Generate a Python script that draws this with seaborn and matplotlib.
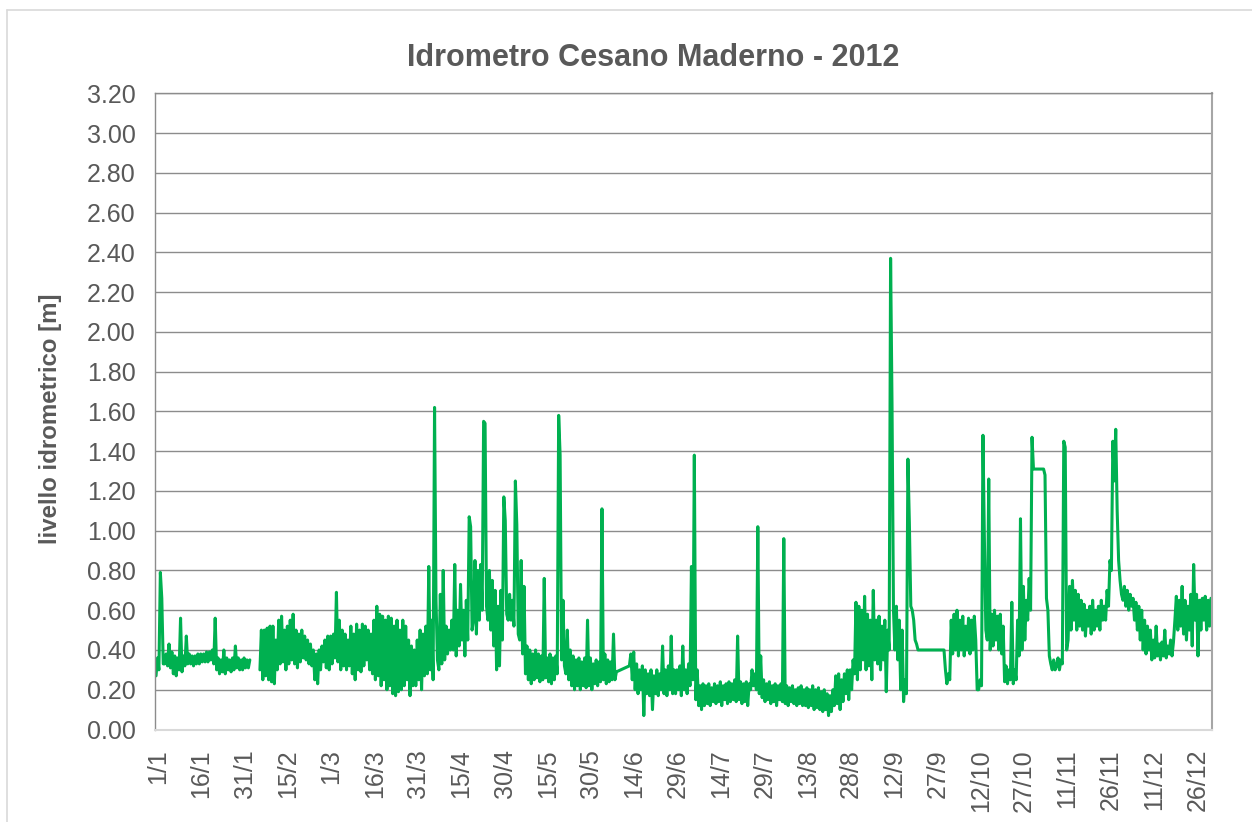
import matplotlib
matplotlib.use("Agg")
import matplotlib.pyplot as plt
from matplotlib.lines import Line2D
from matplotlib.ticker import FormatStrFormatter
from matplotlib.transforms import ScaledTranslation
import numpy as np
import pandas as pd
import seaborn as sns

# Hydrometer level, Cesano Maderno 2012: two readings per day (morning / evening), in metres.
# Day 0 = 1 January. None = no reading.
AM = (
    [0.27, 0.30, 0.66, 0.33, 0.32, 0.31, 0.28, 0.27, 0.30, 0.29, 0.32, 0.33, 0.33, 0.32, 0.33]
    + [0.33, 0.34, 0.34, 0.34, 0.35, 0.33, 0.30, 0.28, 0.29, 0.28, 0.30, 0.29, 0.30, 0.31, 0.30]
    + [0.30, 0.31, 0.31, None, None, None, 0.30, 0.25, 0.27, 0.25, 0.24, 0.23, 0.30, 0.33, 0.34]
    + [0.30, 0.33, 0.35, 0.33, 0.31, 0.34, 0.36, 0.35, 0.33, 0.32, 0.25, 0.23, 0.30, 0.34, 0.31]
    + [0.30, 0.33, 0.36, 0.34, 0.30, 0.32, 0.30, 0.32, 0.28, 0.25, 0.30, 0.29, 0.32, 0.35, 0.30]
    + [0.28, 0.25, 0.27, 0.22, 0.25, 0.20, 0.22, 0.18, 0.17, 0.19, 0.20, 0.22, 0.25, 0.17, 0.22]
    + [0.22, 0.25, 0.20, 0.27, 0.28, 0.30, 0.25, 0.65, 0.30, 0.33, 0.35, 0.38, 0.40, 0.40, 0.37]
    + [0.42, 0.45, 0.37, 0.45, 1.02, 0.55, 0.48, 0.55, 0.60, 1.54, 0.55, 0.50, 0.42, 0.30, 0.32]
    + [0.45, 1.05, 0.55, 0.55, 0.52, 1.03, 0.45, 0.38, 0.28, 0.25, 0.23, 0.25, 0.26, 0.24, 0.25]
    + [0.26, 0.24, 0.23, 0.25, 0.28, 1.38, 0.65, 0.28, 0.25, 0.22, 0.20, 0.22, 0.20, 0.22, 0.21]
    + [0.22, 0.20, 0.23, 0.22, 0.24, 0.25, 0.23, 0.24, 0.25, 0.25, None, None, None, None, 0.32]
    + [0.25, 0.20, 0.18, 0.20, 0.07, 0.18, 0.17, 0.10, 0.18, 0.17, 0.20, 0.18, 0.17, 0.20, 0.18]
    + [0.18, 0.20, 0.17, 0.20, 0.18, 0.22, 0.25, 0.15, 0.12, 0.10, 0.12, 0.13, 0.12, 0.14, 0.13]
    + [0.14, 0.12, 0.15, 0.13, 0.14, 0.15, 0.14, 0.15, 0.13, 0.14, 0.12, 0.20, 0.22, 0.20, 0.18]
    + [0.16, 0.14, 0.15, 0.13, 0.14, 0.12, 0.15, 0.14, 0.13, 0.12, 0.14, 0.13, 0.12, 0.13, 0.12]
    + [0.12, 0.11, 0.12, 0.10, 0.11, 0.10, 0.09, 0.10, 0.07, 0.09, 0.12, 0.13, 0.10, 0.14, 0.18]
    + [0.15, 0.20, 0.28, 0.25, 0.30, 0.35, 0.30, 0.32, 0.25, 0.35, 0.33, 0.30, 0.35, 0.19, 0.40]
    + [1.62, 0.40, 0.35, 0.20, 0.14, 0.18, 1.04, 0.60, 0.45, 0.40, 0.40, 0.40, 0.40, 0.40, 0.40]
    + [0.40, 0.40, 0.40, 0.40, 0.23, 0.25, 0.38, 0.40, 0.37, 0.40, 0.37, 0.40, 0.38, 0.40, 0.45]
    + [0.20, 0.22, 0.95, 0.45, 0.40, 0.42, 0.45, 0.40, 0.38, 0.24, 0.23, 0.25, 0.23, 0.25, 0.37]
    + [0.40, 0.45, 0.55, 0.60, 1.31, 1.31, 1.31, 1.31, 1.28, 0.60, 0.33, 0.35, 0.32, 0.30, 0.33]
    + [1.42, 0.45, 0.50, 0.55, 0.50, 0.52, 0.50, 0.47, 0.52, 0.48, 0.50, 0.52, 0.50, 0.55, 0.55]
    + [0.62, 0.80, 1.25, 1.10, 0.75, 0.65, 0.62, 0.60, 0.62, 0.55, 0.50, 0.45, 0.40, 0.38, 0.40]
    + [0.35, 0.36, 0.37, 0.35, 0.37, 0.36, 0.38, 0.37, 0.55, 0.50, 0.52, 0.48, 0.45, 0.50, 0.42]
    + [0.55, 0.37, 0.50, 0.55, 0.50, 0.52]
)
PM = (
    [0.36, 0.79, 0.33, 0.38, 0.43, 0.39, 0.37, 0.36, 0.56, 0.37, 0.47, 0.38, 0.37, 0.37, 0.38]
    + [0.38, 0.38, 0.39, 0.39, 0.40, 0.56, 0.36, 0.35, 0.40, 0.36, 0.35, 0.36, 0.42, 0.36, 0.35]
    + [0.36, 0.35, 0.35, None, None, None, 0.50, 0.50, 0.51, 0.52, 0.52, 0.45, 0.55, 0.57, 0.50]
    + [0.52, 0.55, 0.58, 0.50, 0.48, 0.50, 0.47, 0.45, 0.43, 0.40, 0.38, 0.40, 0.42, 0.45, 0.47]
    + [0.47, 0.48, 0.69, 0.55, 0.50, 0.48, 0.45, 0.52, 0.48, 0.53, 0.50, 0.53, 0.52, 0.50, 0.48]
    + [0.55, 0.62, 0.58, 0.57, 0.55, 0.57, 0.56, 0.52, 0.55, 0.50, 0.55, 0.52, 0.45, 0.42, 0.40]
    + [0.45, 0.50, 0.48, 0.52, 0.82, 0.55, 1.62, 0.35, 0.68, 0.80, 0.52, 0.50, 0.55, 0.83, 0.60]
    + [0.73, 0.60, 0.65, 1.07, 0.50, 0.85, 0.80, 0.83, 1.55, 0.62, 0.80, 0.75, 0.70, 0.62, 0.70]
    + [1.17, 0.58, 0.68, 0.65, 1.25, 0.48, 0.85, 0.72, 0.42, 0.40, 0.38, 0.40, 0.38, 0.37, 0.76]
    + [0.36, 0.38, 0.36, 0.37, 1.58, 0.35, 0.32, 0.50, 0.40, 0.37, 0.35, 0.36, 0.34, 0.36, 0.55]
    + [0.36, 0.33, 0.35, 0.34, 1.11, 0.38, 0.35, 0.34, 0.48, 0.29, None, None, None, None, 0.38]
    + [0.39, 0.33, 0.30, 0.32, 0.30, 0.28, 0.30, 0.27, 0.30, 0.28, 0.42, 0.30, 0.32, 0.47, 0.30]
    + [0.30, 0.32, 0.42, 0.30, 0.33, 0.82, 1.38, 0.30, 0.22, 0.23, 0.22, 0.23, 0.21, 0.23, 0.22]
    + [0.24, 0.22, 0.23, 0.24, 0.23, 0.25, 0.47, 0.24, 0.23, 0.24, 0.23, 0.30, 0.28, 1.02, 0.37]
    + [0.25, 0.23, 0.24, 0.22, 0.23, 0.22, 0.23, 0.96, 0.22, 0.21, 0.22, 0.20, 0.21, 0.22, 0.20]
    + [0.21, 0.20, 0.22, 0.20, 0.21, 0.19, 0.20, 0.18, 0.17, 0.20, 0.27, 0.28, 0.25, 0.28, 0.30]
    + [0.30, 0.35, 0.64, 0.62, 0.60, 0.67, 0.58, 0.55, 0.70, 0.55, 0.57, 0.52, 0.55, 0.50, 2.37]
    + [0.60, 0.62, 0.55, 0.50, 0.25, 1.36, 0.62, 0.55, 0.43, 0.40, 0.40, 0.40, 0.40, 0.40, 0.40]
    + [0.40, 0.40, 0.40, 0.30, 0.28, 0.55, 0.58, 0.60, 0.55, 0.57, 0.52, 0.56, 0.55, 0.57, 0.20]
    + [0.25, 1.48, 0.50, 1.26, 0.58, 0.60, 0.57, 0.58, 0.52, 0.32, 0.30, 0.64, 0.30, 0.55, 1.06]
    + [0.72, 0.65, 0.76, 1.47, 1.31, 1.31, 1.31, 1.31, 0.66, 0.37, 0.30, 0.30, 0.36, 0.35, 1.45]
    + [0.40, 0.72, 0.75, 0.70, 0.68, 0.65, 0.63, 0.60, 0.62, 0.65, 0.60, 0.62, 0.65, 0.62, 0.70]
    + [0.85, 1.45, 1.51, 0.85, 0.68, 0.72, 0.70, 0.68, 0.66, 0.64, 0.62, 0.60, 0.55, 0.52, 0.50]
    + [0.45, 0.52, 0.43, 0.44, 0.50, 0.42, 0.45, 0.44, 0.67, 0.65, 0.72, 0.65, 0.62, 0.68, 0.83]
    + [0.68, 0.65, 0.66, 0.67, 0.65, 0.66]
)
# days on which recording restarts after an interruption (the line is broken there)
RESTART_DAYS = [36]

TICK_LABELS = ["1/1", "16/1", "31/1", "15/2", "1/3", "16/3", "31/3", "15/4", "30/4",
               "15/5", "30/5", "14/6", "29/6", "14/7", "29/7", "13/8", "28/8", "12/9",
               "27/9", "12/10", "27/10", "11/11", "26/11", "11/12", "26/12"]
N_DAYS = 366

assert len(AM) == N_DAYS and len(PM) == N_DAYS

rows = []
for d, (a, p) in enumerate(zip(AM, PM)):
    seg = sum(d >= r for r in RESTART_DAYS)
    if a is not None:
        rows.append((d + 0.25, a, seg))
    if p is not None:
        rows.append((d + 0.75, p, seg))
df = pd.DataFrame(rows, columns=["giorno", "livello", "tratto"])

sns.set_theme(style="white")
plt.rcParams["font.family"] = ["Liberation Sans", "DejaVu Sans"]

W, H = 1252, 822
fig = plt.figure(figsize=(W / 100, H / 100), dpi=100)
left, right, top, bottom = 155.3, 1211.7, 93.3, 729.5
ax = fig.add_axes([left / W, 1 - bottom / H, (right - left) / W, (bottom - top) / H])

sns.lineplot(data=df, x="giorno", y="livello", units="tratto", estimator=None,
             color="#00B050", linewidth=2.2, ax=ax, legend=False)

ax.set_xlim(0, N_DAYS)
ax.set_ylim(0, 3.2)
ax.set_yticks(np.round(np.arange(0, 3.21, 0.2), 2))
ax.yaxis.set_major_formatter(FormatStrFormatter("%.2f"))
ax.set_xticks(range(0, 15 * len(TICK_LABELS), 15))
ax.set_xticklabels(TICK_LABELS)

ax.grid(axis="y", color="#8c8c8c", linewidth=1.0)
ax.grid(axis="x", visible=False)
ax.set_axisbelow(True)
for side, col, lw in [("left", "#8c8c8c", 1.0), ("top", "#8c8c8c", 1.0),
                      ("right", "#a6a6a6", 1.5), ("bottom", "#d9d9d9", 1.5)]:
    ax.spines[side].set_visible(True)
    ax.spines[side].set_color(col)
    ax.spines[side].set_linewidth(lw)

ax.tick_params(axis="x", direction="out", length=6, width=1.3, color="#d9d9d9",
               pad=8, labelsize=18, labelcolor="#595959", labelrotation=90)
ax.tick_params(axis="y", length=0, pad=14, labelsize=18, labelcolor="#595959")
ax.set_xlabel("")
ax.set_ylabel("")
shift = ScaledTranslation(3 / 100, 0, fig.dpi_scale_trans)
for lab in ax.get_xticklabels():
    lab.set_transform(lab.get_transform() + shift)

fig.text(51 / W, 1 - 419 / H, "livello idrometrico [m]", rotation=90, ha="center",
         va="center", fontsize=17.3, fontweight="bold", color="#595959")
fig.text(653 / W, 1 - 66 / H, "Idrometro Cesano Maderno - 2012", ha="center",
         va="baseline", fontsize=22, fontweight="bold", color="#595959")

# chart frame
fig.add_artist(Line2D([7 / W, 7 / W], [0, 1 - 10 / H], transform=fig.transFigure,
                      color="#d9d9d9", linewidth=1.2))
fig.add_artist(Line2D([7 / W, 1], [1 - 10 / H, 1 - 10 / H], transform=fig.transFigure,
                      color="#d9d9d9", linewidth=1.2))

fig.savefig("out.png", dpi=100)
